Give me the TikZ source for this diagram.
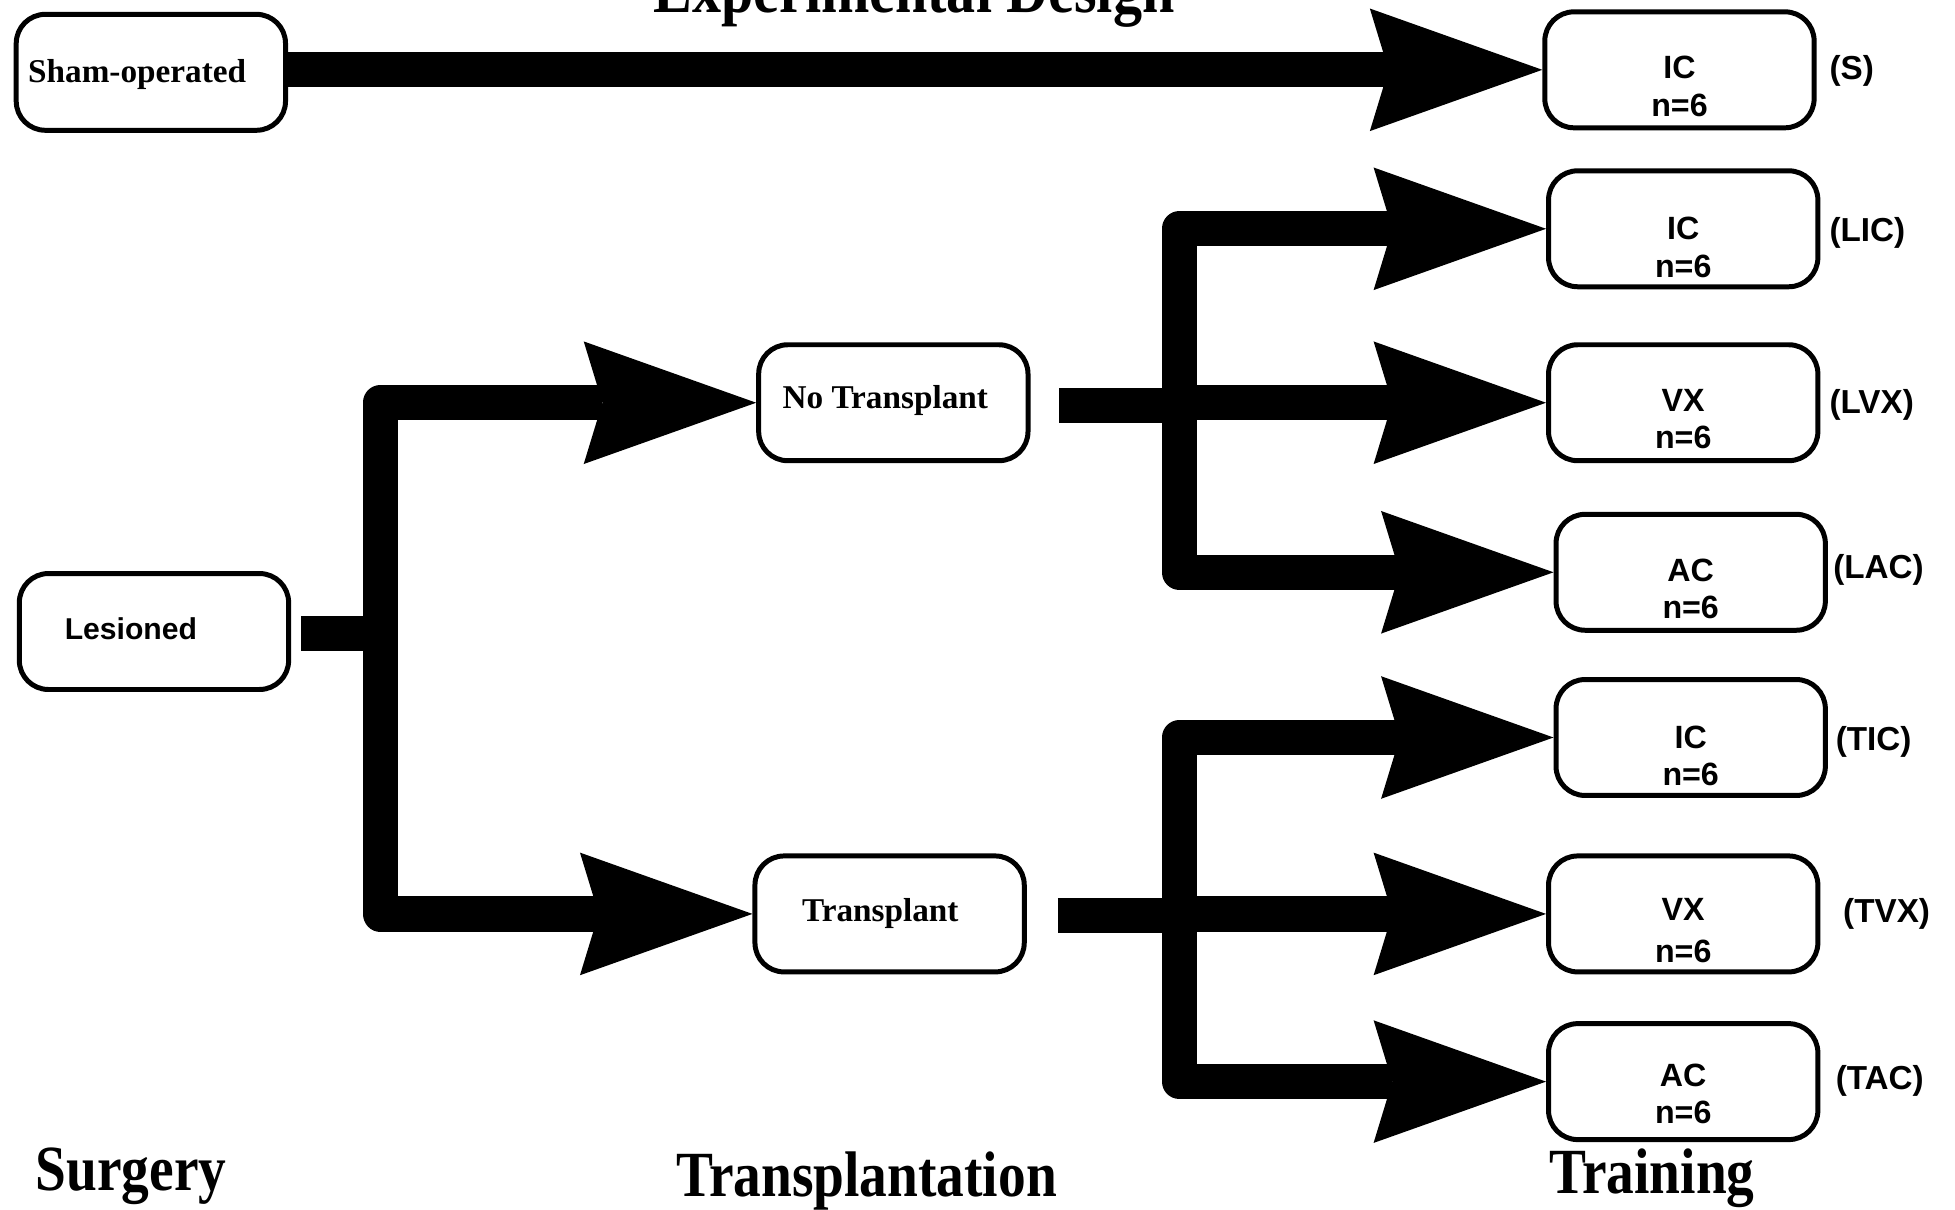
\documentclass[tikz,border=0pt]{standalone}
\usepackage{fontspec}
\setmainfont{Liberation Serif}
\newfontfamily\headfont{Liberation Serif}[FakeStretch=0.86]
\newfontfamily\boxsans{Liberation Sans}
\usetikzlibrary{arrows.meta}
\tikzset{
  box/.style={draw, line width=2.4pt, rounded corners=14pt, minimum width=129.6pt, minimum height=55.8pt, inner sep=0pt},
  conn/.style={line width=17pt, line join=round},
  arr/.style={conn, -{Stealth[length=83pt, width=59pt, inset=9pt, line width=0pt]}},
  sertxt/.style={font=\bfseries\fontsize{16}{18}\selectfont, inner sep=0pt},
  santxt/.style={font=\boxsans\bfseries\fontsize{15.5}{18}\selectfont, inner sep=0pt, align=center},
  grplbl/.style={font=\boxsans\bfseries\fontsize{16}{18}\selectfont, inner sep=0pt, anchor=west},
  headtxt/.style={font=\headfont\bfseries\fontsize{31}{31}\selectfont, inner sep=0pt, anchor=base},
}
\begin{document}
\begin{tikzpicture}[x=0.6pt, y=-0.6pt]
\useasboundingbox (0,0) rectangle (1568,970);
\clip (0,0) rectangle (1568,970);

% title (cut at the top, as in the reference)
\node[headtxt, font=\headfont\bfseries\fontsize{32.5}{32.5}\selectfont] (title) at (733,10) {Experimental Design};

% boxes
\node[box] (sham) at (121,58) {};
\node[box] (S)    at (1347,56) {};
\node[box] (LIC)  at (1350,183.5) {};
\node[box] (LVX)  at (1350,323) {};
\node[box] (LAC)  at (1356,459) {};
\node[box] (TIC)  at (1356,591.5) {};
\node[box] (TVX)  at (1350,733) {};
\node[box] (TAC)  at (1350,867.5) {};
\node[box] (les)  at (123.5,506.5) {};
\node[box] (NoT)  at (716.5,323) {};
\node[box] (Tr)   at (713.5,733) {};

% box texts
\node[sertxt] (shamt) at (110,60) {Sham-operated};
\node[santxt, font=\boxsans\bfseries\fontsize{14.5}{17}\selectfont] (lest) at (105,504) {Lesioned};
\node[sertxt] (NoTt) at (710,321) {No Transplant};
\node[sertxt] (Trt) at (706,733) {Transplant};
\node[santxt] (St)   at ([yshift=-8pt]S.center) {IC\\n=6};
\node[santxt] (LICt) at ([yshift=-9pt]LIC.center) {IC\\n=6};
\node[santxt] (LVXt) at ([yshift=-8pt]LVX.center) {VX\\n=6};
\node[santxt] (LACt) at ([yshift=-8pt]LAC.center) {AC\\n=6};
\node[santxt] (TICt) at ([yshift=-9pt]TIC.center) {IC\\n=6};
\node[santxt] (TVXt) at ([yshift=-8pt]TVX.center) {VX\\[2pt]n=6};
\node[santxt] (TACt) at ([yshift=-6pt]TAC.center) {AC\\n=6};

% group labels
\node[grplbl] (Sl)   at (1467,57)  {(S)};
\node[grplbl] (LICl) at (1467,187) {(LIC)};
\node[grplbl] (LVXl) at (1467,325) {(LVX)};
\node[grplbl] (LACl) at (1470,457) {(LAC)};
\node[grplbl] (TICl) at (1472,595) {(TIC)};
\node[grplbl] (TVXl) at (1478,733) {(TVX)};
\node[grplbl] (TACl) at (1472,867) {(TAC)};

% stage labels
\node[headtxt] (surg) at (105,955) {Surgery};
\node[headtxt] (transpl) at (695,960) {Transplantation};
\node[headtxt] (train) at (1325,957) {Training};

% connectors
\coordinate (J1) at (305,508);
\coordinate (J2) at (946,325);
\coordinate (J3) at (946,734);

\draw[arr] (sham.east |- S.west) -- (S.west);

\draw[conn] ([xshift=4.8pt]les.east |- J1) -- (J1);
\draw[arr] (J1) |- (NoT.west);
\draw[arr] (J1) |- (Tr.west);

\draw[conn] ([xshift=13.8pt]NoT.east |- J2) -- (J2);
\draw[arr] (J2) |- (LIC.west);
\draw[arr] (J2) |- (LVX.west);
\draw[arr] (J2) |- (LAC.west);

\draw[conn] ([xshift=15pt]Tr.east |- J3) -- (J3);
\draw[arr] (J3) |- (TIC.west);
\draw[arr] (J3) |- (TVX.west);
\draw[arr] (J3) |- (TAC.west);
\end{tikzpicture}
\end{document}
